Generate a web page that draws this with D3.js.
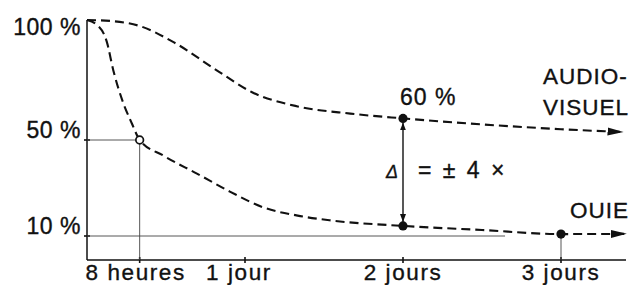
<!DOCTYPE html>
<html>
<head>
<meta charset="utf-8">
<script src="https://cdn.jsdelivr.net/npm/d3@7"></script>
<style>
  html, body { margin: 0; padding: 0; background: #fff; }
  svg { display: block; font-family: "Liberation Sans", Arial, Helvetica, sans-serif; }
  text { stroke: #111; stroke-width: 0.35px; }
</style>
</head>
<body>
<svg id="chart" width="631" height="285"></svg>
<script>
// ---- data (time in hours, retention in %) ----
const audioHours  = [0, 4, 8, 13, 20, 25, 32, 40, 48, 60, 72, 81.5];
const audioValues = [100, 99.5, 97.5, 91, 78.5, 70, 64, 61, 59, 56.5, 54.5, 53.3];
const ouieHours   = [0, 1.5, 3, 4, 5.3, 6.8, 8, 11.6, 16.7, 21.7, 26.7, 32, 37, 48, 60, 72, 82];
const ouieValues  = [100, 98, 91, 79, 67, 57, 50, 43.5, 36, 28.5, 22, 18.5, 16.5, 14.2, 12.5, 10.8, 10.9];
const xTickHours  = [8, 24, 48, 72];
const xTickLabels = ["8 heures", "1 jour", "2 jours", "3 jours"];
const yTickValues = [100, 50, 10];
const yTickLabels = ["100 %", "50 %", "10 %"];
const markedAudio = [{h: 48, v: 59, label: "60 %"}];
const markedOuie  = [{h: 48, v: 14.2}, {h: 72, v: 10.8}];
const halfPoint   = {h: 8, v: 50};
const seriesNames = ["AUDIO-", "VISUEL", "OUIE"];
const deltaText   = "= ± 4 ×";

const svg = d3.select("#chart");
const x = d3.scaleLinear().domain([0, 72]).range([87, 561]);
const y = d3.scaleLinear().domain([0, 100]).range([260, 20]);
const ink = "#111";

const defs = svg.append("defs");
defs.append("marker").attr("id", "bigArrow")
  .attr("markerUnits", "userSpaceOnUse").attr("viewBox", "0 -5 16 10")
  .attr("refX", 16).attr("refY", 0).attr("markerWidth", 16).attr("markerHeight", 10)
  .attr("orient", "auto")
  .append("path").attr("d", "M0,-4L16,0L0,4Z").attr("fill", ink);
defs.append("marker").attr("id", "smallArrow")
  .attr("markerUnits", "userSpaceOnUse").attr("viewBox", "0 -4 8 8")
  .attr("refX", 8).attr("refY", 0).attr("markerWidth", 8).attr("markerHeight", 8)
  .attr("orient", "auto-start-reverse")
  .append("path").attr("d", "M0,-3L8,0L0,3Z").attr("fill", ink);

// ---- axes ----
const xAxisG = svg.append("g").attr("transform", `translate(0,${y(0)})`);
xAxisG.append("line").attr("x1", x(0)).attr("x2", 626).attr("y1", 0).attr("y2", 0)
  .attr("stroke", ink).attr("stroke-width", 1.5);
xAxisG.selectAll(".xt").data(xTickHours).join("line")
  .attr("x1", d => x(d)).attr("x2", d => x(d)).attr("y1", -3).attr("y2", 3)
  .attr("stroke", ink).attr("stroke-width", 1.6);
xAxisG.selectAll(".xl").data(xTickHours).join("text")
  .attr("x", (d, i) => x(d) - (i === 0 ? 4 : (i === 1 ? 6 : 0)))
  .attr("y", 19.5).attr("text-anchor", "middle")
  .attr("font-size", 22.5).attr("letter-spacing", 1.6).attr("fill", ink)
  .text((d, i) => xTickLabels[i]);

const yAxisG = svg.append("g").attr("transform", `translate(${x(0)},0)`);
yAxisG.append("line").attr("x1", 0).attr("x2", 0).attr("y1", y(100)).attr("y2", y(0))
  .attr("stroke", ink).attr("stroke-width", 1.5);
yAxisG.selectAll(".yt").data(yTickValues.slice(1)).join("line")
  .attr("x1", -3).attr("x2", 3).attr("y1", d => y(d)).attr("y2", d => y(d))
  .attr("stroke", ink).attr("stroke-width", 1.6);
yAxisG.selectAll(".yl").data(yTickValues).join("text")
  .attr("x", -6).attr("y", d => Math.max(y(d) - 2, 35)).attr("text-anchor", "end")
  .attr("font-size", 23).attr("letter-spacing", 0.5).attr("fill", ink)
  .text((d, i) => yTickLabels[i]);

// ---- guide lines ----
const guide = svg.append("g").attr("stroke", "#444").attr("stroke-width", 0.9);
guide.append("line").attr("x1", x(0)).attr("x2", x(halfPoint.h))
  .attr("y1", y(halfPoint.v)).attr("y2", y(halfPoint.v));
guide.append("line").attr("x1", x(halfPoint.h)).attr("x2", x(halfPoint.h))
  .attr("y1", y(halfPoint.v) + 4).attr("y2", y(0));
guide.append("line").attr("x1", x(0)).attr("x2", x(63.5))
  .attr("y1", y(10)).attr("y2", y(10));
guide.append("line").attr("x1", x(72)).attr("x2", x(72))
  .attr("y1", y(10.8)).attr("y2", y(0));

// ---- curves ----
const line = d3.line().x(d => x(d[0])).y(d => y(d[1])).curve(d3.curveMonotoneX);
const audio = audioHours.map((h, i) => [h, audioValues[i]]);
const ouie  = ouieHours.map((h, i) => [h, ouieValues[i]]);
[audio, ouie].forEach(data => {
  svg.append("path").datum(data).attr("d", line)
    .attr("fill", "none").attr("stroke", ink).attr("stroke-width", 2.1)
    .attr("stroke-dasharray", "9,5").attr("marker-end", "url(#bigArrow)");
});

// ---- delta arrow ----
svg.append("line")
  .attr("x1", x(48)).attr("x2", x(48))
  .attr("y1", y(markedAudio[0].v) + 4).attr("y2", y(markedOuie[0].v) - 4)
  .attr("stroke", ink).attr("stroke-width", 1.4)
  .attr("marker-start", "url(#smallArrow)").attr("marker-end", "url(#smallArrow)");
svg.append("text").attr("x", x(48) - 5).attr("y", (y(markedAudio[0].v) + y(markedOuie[0].v)) / 2 + 6)
  .attr("text-anchor", "end").attr("font-size", 18).attr("font-style", "italic").attr("fill", ink).text("Δ");
svg.append("text").attr("x", x(48) + 15).attr("y", (y(markedAudio[0].v) + y(markedOuie[0].v)) / 2 + 6)
  .attr("font-size", 23).attr("word-spacing", 5).attr("fill", ink)
  .attr("xml:space", "preserve").text(deltaText);

// ---- points ----
svg.selectAll(".dot").data(markedAudio.concat(markedOuie)).join("circle")
  .attr("cx", d => x(d.h)).attr("cy", d => y(d.v)).attr("r", 4.6).attr("fill", ink);
svg.append("circle").attr("cx", x(halfPoint.h)).attr("cy", y(halfPoint.v)).attr("r", 3.8)
  .attr("fill", "#fff").attr("stroke", ink).attr("stroke-width", 1.7);
svg.selectAll(".dl").data(markedAudio).join("text")
  .attr("x", d => x(d.h) - 3).attr("y", d => y(d.v) - 13).attr("font-size", 23)
  .attr("letter-spacing", 1).attr("fill", ink)
  .text(d => d.label);

// ---- series labels ----
svg.append("text").attr("x", 543).attr("y", 84).attr("font-size", 22.5).attr("letter-spacing", 1).attr("fill", ink).text(seriesNames[0]);
svg.append("text").attr("x", 543).attr("y", 115).attr("font-size", 22.5).attr("letter-spacing", 1).attr("fill", ink).text(seriesNames[1]);
svg.append("text").attr("x", 570).attr("y", 218).attr("font-size", 22.5).attr("letter-spacing", 1).attr("fill", ink).text(seriesNames[2]);
</script>
</body>
</html>
